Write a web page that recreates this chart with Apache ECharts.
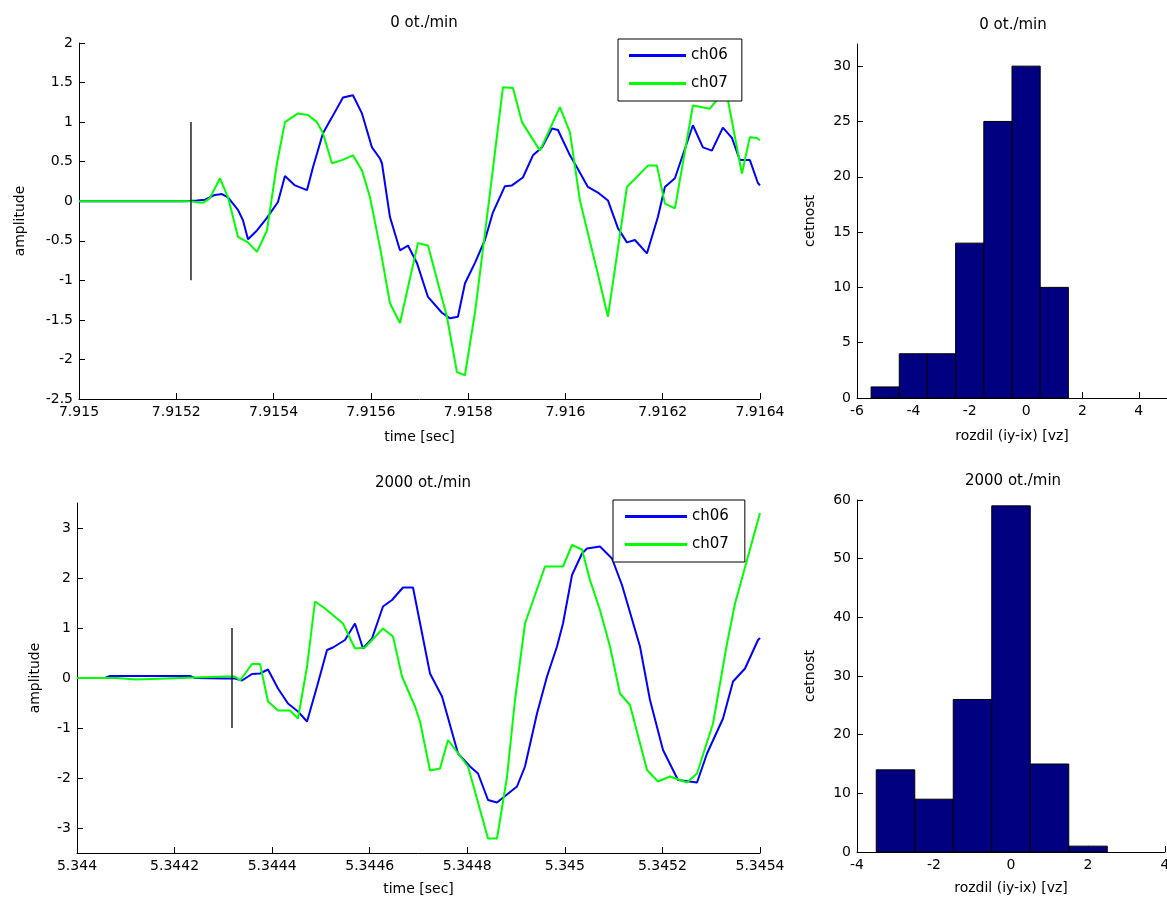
<!DOCTYPE html>
<html>
<head>
<meta charset="utf-8">
<script src="https://cdn.jsdelivr.net/npm/echarts@6/dist/echarts.min.js"></script>
<style>
  html, body { margin: 0; padding: 0; background: #fff; }
  #chart { width: 1167px; height: 901px; }
</style>
</head>
<body>
<div id="chart"></div>
<script>
// ---- 0 ot./min : time records ----
const top06T = [7.915, 7.9152180, 7.9152425, 7.9152590, 7.9152795, 7.9152939, 7.9153063, 7.9153268, 7.9153371, 7.9153474, 7.9153659, 7.9153864, 7.9154090, 7.9154234, 7.9154440, 7.9154687, 7.9154810, 7.9155015, 7.9155200, 7.9155427, 7.9155632, 7.9155817, 7.9156023, 7.9156187, 7.9156228, 7.9156393, 7.9156598, 7.9156763, 7.9156947, 7.9157174, 7.9157461, 7.9157626, 7.9157790, 7.9157934, 7.9158140, 7.9158345, 7.9158510, 7.9158756, 7.9158900, 7.9159126, 7.9159332, 7.9159517, 7.9159723, 7.9159846, 7.9160093, 7.9160236, 7.9160462, 7.9160668, 7.9160874, 7.9161079, 7.9161264, 7.9161429, 7.9161675, 7.9161901, 7.9162045, 7.9162251, 7.9162621, 7.9162826, 7.9163011, 7.9163237, 7.9163422, 7.9163587, 7.9163792, 7.9163957, 7.9164];
const top06V = [0, 0, 0.01, 0.02, 0.08, 0.09, 0.05, -0.11, -0.24, -0.48, -0.37, -0.21, -0.01, 0.32, 0.20, 0.14, 0.43, 0.86, 1.06, 1.31, 1.34, 1.11, 0.68, 0.54, 0.48, -0.20, -0.62, -0.56, -0.78, -1.21, -1.41, -1.48, -1.46, -1.04, -0.78, -0.49, -0.14, 0.19, 0.20, 0.30, 0.58, 0.68, 0.92, 0.90, 0.58, 0.43, 0.18, 0.11, 0.01, -0.34, -0.52, -0.49, -0.66, -0.20, 0.18, 0.29, 0.96, 0.68, 0.64, 0.93, 0.80, 0.52, 0.52, 0.23, 0.20];
const top07T = [7.915, 7.9152302, 7.9152384, 7.9152549, 7.9152693, 7.9152898, 7.9153063, 7.9153268, 7.9153474, 7.9153659, 7.9153864, 7.9154070, 7.9154234, 7.9154502, 7.9154707, 7.9154892, 7.9155015, 7.9155200, 7.9155406, 7.9155632, 7.9155817, 7.9155982, 7.9156187, 7.9156393, 7.9156598, 7.9156968, 7.9157174, 7.9157564, 7.9157770, 7.9157934, 7.9158140, 7.9158448, 7.9158715, 7.9158921, 7.9159106, 7.9159476, 7.9159887, 7.9160093, 7.9160298, 7.9160647, 7.9160874, 7.9161264, 7.9161696, 7.9161881, 7.9162045, 7.9162251, 7.9162621, 7.9162970, 7.9163217, 7.9163340, 7.9163628, 7.9163792, 7.9163936, 7.9164];
const top07V = [0, 0, -0.01, -0.02, 0.04, 0.29, 0.05, -0.45, -0.52, -0.64, -0.37, 0.48, 1.00, 1.11, 1.09, 1.00, 0.86, 0.48, 0.52, 0.58, 0.39, 0.05, -0.58, -1.29, -1.54, -0.53, -0.56, -1.46, -2.16, -2.20, -1.41, 0.10, 1.44, 1.43, 1.00, 0.64, 1.19, 0.87, 0.01, -0.87, -1.46, 0.18, 0.45, 0.45, -0.03, -0.09, 1.21, 1.17, 1.36, 1.28, 0.35, 0.81, 0.80, 0.77];
const topTrigger = 7.9152302;

// ---- 2000 ot./min : time records ----
const bot06T = [5.344, 5.3440574, 5.3440676, 5.3442316, 5.3442419, 5.3443034, 5.3443239, 5.3443382, 5.3443587, 5.3443751, 5.3443915, 5.3444120, 5.3444325, 5.3444530, 5.3444715, 5.3444920, 5.3445125, 5.3445247, 5.3445493, 5.3445698, 5.3445862, 5.3446047, 5.3446272, 5.3446457, 5.3446682, 5.3446887, 5.3447236, 5.3447482, 5.3447810, 5.3448056, 5.3448220, 5.3448425, 5.3448609, 5.3449019, 5.3449183, 5.3449429, 5.3449634, 5.3449839, 5.3449962, 5.3450147, 5.3450351, 5.3450454, 5.3450720, 5.3450966, 5.3451171, 5.3451540, 5.3451745, 5.3452012, 5.3452319, 5.3452709, 5.3452914, 5.3453242, 5.3453447, 5.3453693, 5.3453959, 5.3454];
const bot06V = [0, 0, 0.04, 0.04, 0, -0.01, -0.01, -0.05, 0.08, 0.09, 0.17, -0.21, -0.51, -0.67, -0.87, -0.17, 0.56, 0.61, 0.76, 1.09, 0.59, 0.79, 1.43, 1.56, 1.81, 1.81, 0.09, -0.37, -1.51, -1.77, -1.91, -2.44, -2.49, -2.17, -1.77, -0.71, 0.03, 0.63, 1.09, 2.06, 2.49, 2.59, 2.63, 2.39, 1.86, 0.63, -0.44, -1.44, -2.04, -2.09, -1.51, -0.81, -0.07, 0.19, 0.76, 0.80];
const bot07T = [5.344, 5.3440820, 5.3440840, 5.3441209, 5.3441230, 5.3443034, 5.3443239, 5.3443341, 5.3443587, 5.3443751, 5.3443915, 5.3444120, 5.3444366, 5.3444530, 5.3444715, 5.3444879, 5.3445084, 5.3445452, 5.3445698, 5.3445903, 5.3446272, 5.3446477, 5.3446662, 5.3446928, 5.3447031, 5.3447236, 5.3447441, 5.3447605, 5.3448015, 5.3448425, 5.3448609, 5.3448814, 5.3448978, 5.3449183, 5.3449593, 5.3449962, 5.3450147, 5.3450351, 5.3450515, 5.3450720, 5.3450925, 5.3451130, 5.3451335, 5.3451684, 5.3451909, 5.3452155, 5.3452504, 5.3452709, 5.3453037, 5.3453324, 5.3453488, 5.3453754, 5.3454];
const bot07V = [0, 0, -0.03, -0.03, 0, 0.03, 0.03, -0.05, 0.28, 0.28, -0.47, -0.65, -0.65, -0.81, 0.23, 1.53, 1.39, 1.09, 0.59, 0.61, 0.99, 0.83, 0.03, -0.57, -0.87, -1.85, -1.81, -1.24, -1.77, -3.21, -3.21, -1.98, -0.44, 1.09, 2.23, 2.23, 2.66, 2.57, 1.96, 1.36, 0.63, -0.31, -0.54, -1.84, -2.07, -1.97, -2.09, -1.91, -0.91, 0.69, 1.49, 2.43, 3.30];
const botTrigger = 5.3443177;

// ---- histograms of the sample difference ----
const hist1Bins = [-5, -4, -3, -2, -1, 0, 1];
const hist1Counts = [1, 4, 4, 14, 25, 30, 10];
const hist2Bins = [-3, -2, -1, 0, 1, 2];
const hist2Counts = [14, 9, 26, 59, 15, 1];
const binWidth = 1;

// ---- tick labels ----
const topTimeTicks = [7.915, 7.9152, 7.9154, 7.9156, 7.9158, 7.916, 7.9162, 7.9164];
const topAmpTicks = [-2.5, -2, -1.5, -1, -0.5, 0, 0.5, 1, 1.5, 2];
const botTimeTicks = [5.344, 5.3442, 5.3444, 5.3446, 5.3448, 5.345, 5.3452, 5.3454];
const botAmpTicks = [-3, -2, -1, 0, 1, 2, 3];
const hist1XTicks = [-6, -4, -2, 0, 2, 4];
const hist1YTicks = [0, 5, 10, 15, 20, 25, 30];
const hist2XTicks = [-4, -2, 0, 2, 4];
const hist2YTicks = [0, 10, 20, 30, 40, 50, 60];

const zip = (a, b) => a.map((v, i) => [v, b[i]]);
const FONT = 'DejaVu Sans';
const TXT = '#000';

function axisBase(ticks, extra) {
  return Object.assign({
    type: 'value',
    axisLine: { show: true, onZero: false, lineStyle: { color: '#000', width: 1 } },
    axisTick: { show: true, inside: true, length: 6, customValues: ticks, lineStyle: { color: '#000' } },
    axisLabel: { customValues: ticks, color: TXT, fontFamily: FONT, fontSize: 14, margin: 6 },
    splitLine: { show: false },
    nameTextStyle: { color: TXT, fontFamily: FONT, fontSize: 14 },
    nameLocation: 'middle'
  }, extra);
}
const timeFmt = v => String(parseFloat(v.toFixed(4)));

function histRender(params, api) {
  const c = api.value(0), n = api.value(1);
  const p0 = api.coord([c - binWidth / 2, n]);
  const p1 = api.coord([c + binWidth / 2, 0]);
  return {
    type: 'rect',
    shape: { x: p0[0], y: p0[1], width: p1[0] - p0[0], height: p1[1] - p0[1] },
    style: { fill: '#000080', stroke: '#000', lineWidth: 1 }
  };
}

const lineSeries = (name, t, v, color, idx) => ({
  name, type: 'line', xAxisIndex: idx, yAxisIndex: idx, data: zip(t, v),
  symbol: 'none', lineStyle: { color, width: 2 }, itemStyle: { color }, animation: false
});
const triggerSeries = (t, idx) => ({
  name: 'trigger', type: 'line', xAxisIndex: idx, yAxisIndex: idx,
  data: [[t, -1], [t, 1]], symbol: 'none', lineStyle: { color: '#000', width: 1.3 }, animation: false, z: 3
});

const titleStyle = { color: TXT, fontFamily: FONT, fontSize: 15, fontWeight: 'normal' };
// legend keys drawn as plain line segments
const legendBase = {
  orient: 'vertical', backgroundColor: '#fff', icon: 'rect',
  borderColor: '#000', borderWidth: 1, itemHeight: 3, itemGap: 13,
  textStyle: { color: TXT, fontFamily: FONT, fontSize: 15, lineHeight: 14 },
  selectedMode: false
};
const legendData = [
  { name: 'ch06', itemStyle: { color: '#0000ff' } },
  { name: 'ch07', itemStyle: { color: '#00ff00' } }
];

const option = {
  animation: false,
  backgroundColor: '#fff',
  title: [
    { text: '0 ot./min', left: 419, top: 11, textAlign: 'center', textStyle: titleStyle },
    { text: '0 ot./min', left: 1008, top: 13, textAlign: 'center', textStyle: titleStyle },
    { text: '2000 ot./min', left: 418, top: 471, textAlign: 'center', textStyle: titleStyle },
    { text: '2000 ot./min', left: 1008, top: 469, textAlign: 'center', textStyle: titleStyle }
  ],
  legend: [
    Object.assign({}, legendBase, { data: legendData, left: 618, top: 39, itemWidth: 57, padding: [9, 14, 10, 11] }),
    Object.assign({}, legendBase, { data: legendData, left: 613, top: 500, itemWidth: 62, padding: [9, 16, 10, 12] })
  ],
  grid: [
    { left: 79, top: 43, width: 681, height: 356, containLabel: false, outerBoundsMode: 'none' },
    { left: 857, top: 44, width: 310, height: 354, containLabel: false, outerBoundsMode: 'none' },
    { left: 77, top: 503, width: 683, height: 350, containLabel: false, outerBoundsMode: 'none' },
    { left: 857, top: 500, width: 308, height: 352, containLabel: false, outerBoundsMode: 'none' }
  ],
  xAxis: [
    axisBase(topTimeTicks, { gridIndex: 0, min: 7.915, max: 7.9164, name: 'time [sec]', nameGap: 31,
      axisLabel: { customValues: topTimeTicks, color: TXT, fontFamily: FONT, fontSize: 14, margin: 6, formatter: timeFmt } }),
    axisBase(hist1XTicks, { gridIndex: 1, min: -6, max: 5, name: 'rozdil (iy-ix) [vz]', nameGap: 31 }),
    axisBase(botTimeTicks, { gridIndex: 2, min: 5.344, max: 5.3454, name: 'time [sec]', nameGap: 29,
      axisLabel: { customValues: botTimeTicks, color: TXT, fontFamily: FONT, fontSize: 14, margin: 6, formatter: timeFmt } }),
    axisBase(hist2XTicks, { gridIndex: 3, min: -4, max: 4, name: 'rozdil (iy-ix) [vz]', nameGap: 29 })
  ],
  yAxis: [
    axisBase(topAmpTicks, { gridIndex: 0, min: -2.5, max: 2, name: 'amplitude', nameGap: 52 }),
    axisBase(hist1YTicks, { gridIndex: 1, min: 0, max: 32, name: 'cetnost', nameGap: 40 }),
    axisBase(botAmpTicks, { gridIndex: 2, min: -3.5, max: 3.5, name: 'amplitude', nameGap: 35 }),
    axisBase(hist2YTicks, { gridIndex: 3, min: 0, max: 60, name: 'cetnost', nameGap: 40 })
  ],
  series: [
    lineSeries('ch06', top06T, top06V, '#0000ff', 0),
    lineSeries('ch07', top07T, top07V, '#00ff00', 0),
    triggerSeries(topTrigger, 0),
    { type: 'custom', xAxisIndex: 1, yAxisIndex: 1, renderItem: histRender, data: zip(hist1Bins, hist1Counts), animation: false },
    lineSeries('ch06', bot06T, bot06V, '#0000ff', 2),
    lineSeries('ch07', bot07T, bot07V, '#00ff00', 2),
    triggerSeries(botTrigger, 2),
    { type: 'custom', xAxisIndex: 3, yAxisIndex: 3, renderItem: histRender, data: zip(hist2Bins, hist2Counts), animation: false }
  ]
};

const chart = echarts.init(document.getElementById('chart'), null, { renderer: 'canvas' });
chart.setOption(option);
</script>
</body>
</html>
